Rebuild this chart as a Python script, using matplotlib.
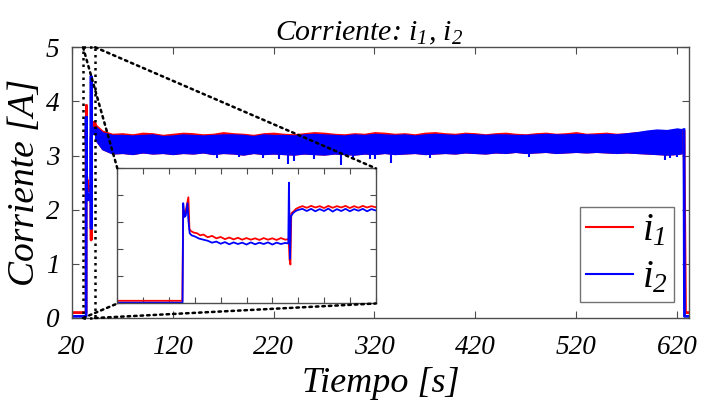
import matplotlib
matplotlib.use('Agg')
import matplotlib.pyplot as plt
from matplotlib.patches import Rectangle, ConnectionPatch
from matplotlib.lines import Line2D

plt.rcParams['font.family'] = 'Liberation Serif'
plt.rcParams['font.style'] = 'italic'
plt.rcParams['mathtext.fontset'] = 'custom'
plt.rcParams['mathtext.rm'] = 'Liberation Serif:italic'
plt.rcParams['mathtext.it'] = 'Liberation Serif:italic'

# Transient (start-up) part
t1_tr = [20.0, 34.02, 34.06, 34.14, 34.22, 34.30, 34.35, 34.42, 34.55, 34.70,
         34.85, 35.00, 35.20, 35.40, 35.60, 35.80, 36.00, 36.20, 36.40, 36.60,
         36.80, 37.00, 37.20, 37.40, 37.60, 37.80, 38.00, 38.20, 38.40, 38.60,
         38.80, 38.96, 39.00, 39.04, 39.08, 39.18, 39.30, 39.45, 39.60, 39.80,
         40.00, 40.20, 40.40, 40.60, 40.80, 41.00, 41.20, 41.40, 41.60, 41.80,
         42.00, 42.20, 42.40, 42.60, 42.80, 43.00]
i1_tr = [0.10, 0.10, 3.45, 3.30, 3.60, 3.93, 2.75, 2.68, 2.62, 2.60,
         2.52, 2.55, 2.45, 2.50, 2.41, 2.46, 2.38, 2.44, 2.37, 2.43,
         2.36, 2.42, 2.36, 2.41, 2.35, 2.42, 2.36, 2.41, 2.35, 2.42,
         2.36, 2.38, 1.62, 1.44, 3.34, 3.40, 3.50, 3.56, 3.60, 3.54,
         3.61, 3.55, 3.60, 3.53, 3.61, 3.54, 3.60, 3.55, 3.61, 3.53,
         3.60, 3.54, 3.61, 3.55, 3.60, 3.56]

t2_tr = [20.0, 34.03, 34.06, 34.12, 34.18, 34.26, 34.30, 34.36, 34.45, 34.60,
         34.80, 35.00, 35.20, 35.40, 35.60, 35.80, 36.00, 36.20, 36.40, 36.60,
         36.80, 37.00, 37.20, 37.40, 37.60, 37.80, 38.00, 38.20, 38.40, 38.60,
         38.80, 38.94, 38.97, 39.02, 39.06, 39.16, 39.28, 39.40, 39.60, 39.80,
         40.00, 40.20, 40.40, 40.60, 40.80, 41.00, 41.20, 41.40, 41.60, 41.80,
         42.00, 42.20, 42.40, 42.60, 42.80, 43.00]
i2_tr = [0.03, 0.03, 3.71, 3.20, 3.25, 3.71, 3.10, 2.60, 2.52, 2.48,
         2.40, 2.36, 2.32, 2.25, 2.29, 2.21, 2.27, 2.19, 2.26, 2.20,
         2.25, 2.18, 2.26, 2.19, 2.25, 2.20, 2.26, 2.18, 2.25, 2.20,
         2.24, 2.22, 4.47, 1.65, 3.22, 3.34, 3.42, 3.46, 3.50, 3.42,
         3.50, 3.41, 3.49, 3.42, 3.51, 3.40, 3.49, 3.42, 3.50, 3.41,
         3.49, 3.43, 3.50, 3.41, 3.49, 3.44]

# Steady state: envelopes of the noisy band
t_ss = [43, 50, 60, 70, 80, 90, 100, 110, 120, 130, 140, 150, 160, 170, 180,
        190, 200, 210, 220, 230, 240, 250, 260, 270, 280, 290, 300, 310, 320,
        330, 340, 350, 360, 370, 380, 390, 400, 410, 420, 430, 440, 450, 460,
        470, 480, 490, 500, 510, 520, 530, 540, 550, 560, 570, 580, 590, 600,
        610, 620, 627]
i1_hi = [3.58, 3.46, 3.40, 3.41, 3.39, 3.42, 3.41, 3.38, 3.40, 3.42,
         3.41, 3.39, 3.40, 3.43, 3.41, 3.40, 3.38, 3.41, 3.42, 3.40,
         3.39, 3.41, 3.43, 3.42, 3.40, 3.39, 3.41, 3.40, 3.43, 3.42,
         3.40, 3.41, 3.39, 3.42, 3.43, 3.41, 3.40, 3.42, 3.41, 3.39,
         3.41, 3.42, 3.40, 3.39, 3.41, 3.42, 3.40, 3.41, 3.43, 3.40,
         3.41, 3.42, 3.40, 3.41, 3.43, 3.44, 3.45, 3.46, 3.47, 3.46]
i2_hi = [3.54, 3.43, 3.38, 3.38, 3.37, 3.38, 3.39, 3.36, 3.37, 3.39,
         3.38, 3.37, 3.38, 3.39, 3.39, 3.38, 3.36, 3.39, 3.38, 3.38,
         3.37, 3.39, 3.40, 3.39, 3.38, 3.37, 3.39, 3.38, 3.40, 3.39,
         3.38, 3.39, 3.37, 3.39, 3.40, 3.39, 3.38, 3.40, 3.39, 3.38,
         3.39, 3.39, 3.38, 3.38, 3.39, 3.40, 3.39, 3.39, 3.40, 3.39,
         3.39, 3.40, 3.39, 3.41, 3.43, 3.46, 3.48, 3.47, 3.50, 3.48]
i2_lo = [3.30, 3.12, 3.04, 3.05, 3.03, 3.06, 3.04, 3.05, 3.03, 3.05,
         3.04, 3.06, 3.03, 3.05, 3.04, 3.02, 3.05, 3.03, 3.04, 3.03,
         3.02, 3.04, 3.03, 3.02, 3.04, 3.03, 3.02, 3.04, 3.03, 3.05,
         3.03, 3.04, 3.05, 3.03, 3.04, 3.05, 3.04, 3.06, 3.05, 3.04,
         3.06, 3.05, 3.07, 3.05, 3.06, 3.07, 3.05, 3.06, 3.07, 3.06,
         3.07, 3.06, 3.05, 3.06, 3.05, 3.04, 3.03, 3.02, 3.03, 3.05]

# Downward spikes of i2
spike_t = [164, 186, 209, 225, 234, 240, 260, 287, 299, 316, 321, 336, 375,
           473, 608, 613, 620]
spike_v = [2.96, 2.98, 2.96, 2.93, 2.85, 2.90, 2.93, 2.82, 2.93, 2.93, 2.94,
           2.86, 2.95, 2.98, 2.91, 2.95, 2.98]

# Shut-down
t1_end = [627, 628.5, 632]
i1_end = [3.45, 0.10, 0.10]
t2_end = [627, 627.5, 632]
i2_end = [3.48, 0.03, 0.03]

zoom_x = [31, 43]
zoom_y = [0, 5]
xticks = [20, 120, 220, 320, 420, 520, 620]
yticks = [0, 1, 2, 3, 4, 5]

red = '#ff0000'
blue = '#0000ff'
spine_c = '0.3'

fig = plt.figure(figsize=(7.05, 4.07), dpi=100)
ax = fig.add_axes([0.1021, 0.2187, 0.8752, 0.6651])

# i1 (red) under i2 (blue)
ax.plot(t1_tr, i1_tr, color=red, lw=2)
ax.fill_between(t_ss, i2_lo, i1_hi, color=red, lw=1.0, edgecolor=red)
ax.plot(t1_end, i1_end, color=red, lw=2)
ax.plot(t2_tr, i2_tr, color=blue, lw=2)
ax.fill_between(t_ss, i2_lo, i2_hi, color=blue, lw=1.0, edgecolor=blue)
ax.vlines(spike_t, spike_v, 3.06, color=blue, lw=1.5)
ax.plot(t2_end, i2_end, color=blue, lw=2)

ax.set_xlim(20, 632)
ax.set_ylim(0, 5)
ax.set_xticks(xticks)
ax.set_yticks(yticks)
ax.tick_params(direction='in', top=True, right=True, length=5,
               labelsize=19.5, colors=spine_c, labelcolor='black')
ax.tick_params(axis='x', pad=12)
ax.tick_params(axis='y', pad=9)
for s in ax.spines.values():
    s.set_color(spine_c)
    s.set_linewidth(1)

ax.set_title('Corriente: $i_1$, $i_2$', fontsize=21.5, pad=5, x=0.481)
ax.set_xlabel('Tiempo [s]', fontsize=26, labelpad=5)
ax.set_ylabel('Corriente [A]', fontsize=27, labelpad=3)

handles = [Line2D([], [], color=red, lw=1.5), Line2D([], [], color=blue, lw=1.5)]
leg = ax.legend(handles, ['$i_1$', '$i_2$'], loc='lower right',
                bbox_to_anchor=(0.9757, 0.059), borderaxespad=0,
                fontsize=28, fancybox=False, framealpha=1,
                edgecolor='0.45', handlelength=1.2, handletextpad=0.25,
                borderpad=0.15, labelspacing=0.25)
leg.get_frame().set_linewidth(1)

# Inset with the start-up detail
axins = fig.add_axes([0.1664, 0.2543, 0.3665, 0.3322])
axins.plot(t1_tr, i1_tr, color=red, lw=1.3)
axins.plot(t2_tr, i2_tr, color=blue, lw=1.3)
axins.set_xlim(zoom_x)
axins.set_ylim(zoom_y)
axins.set_xticks([zoom_x[0] + k * (zoom_x[1] - zoom_x[0]) / 10 for k in range(11)])
axins.set_yticks(yticks)
axins.tick_params(direction='in', top=True, right=True, length=4,
                  labelbottom=False, labelleft=False, colors=spine_c)
for s in axins.spines.values():
    s.set_color(spine_c)
    s.set_linewidth(1)

dot = (0, (1, 1.6))
ax.add_patch(Rectangle((zoom_x[0], zoom_y[0]), zoom_x[1] - zoom_x[0],
                       zoom_y[1] - zoom_y[0], fill=False, ec='black',
                       lw=1.8, ls=dot, zorder=6, clip_on=False))
for xa, ya, xb, yb in [(zoom_x[0], zoom_y[1], 0, 1), (zoom_x[1], zoom_y[1], 1, 1),
                       (zoom_x[0], zoom_y[0], 0, 0), (zoom_x[1], zoom_y[0], 1, 0)]:
    con = ConnectionPatch(xyA=(xa, ya), coordsA=ax.transData,
                          xyB=(xb, yb), coordsB=axins.transAxes,
                          color='black', lw=1.8, ls=dot, zorder=6)
    fig.add_artist(con)

fig.savefig('out.png', dpi=100)
